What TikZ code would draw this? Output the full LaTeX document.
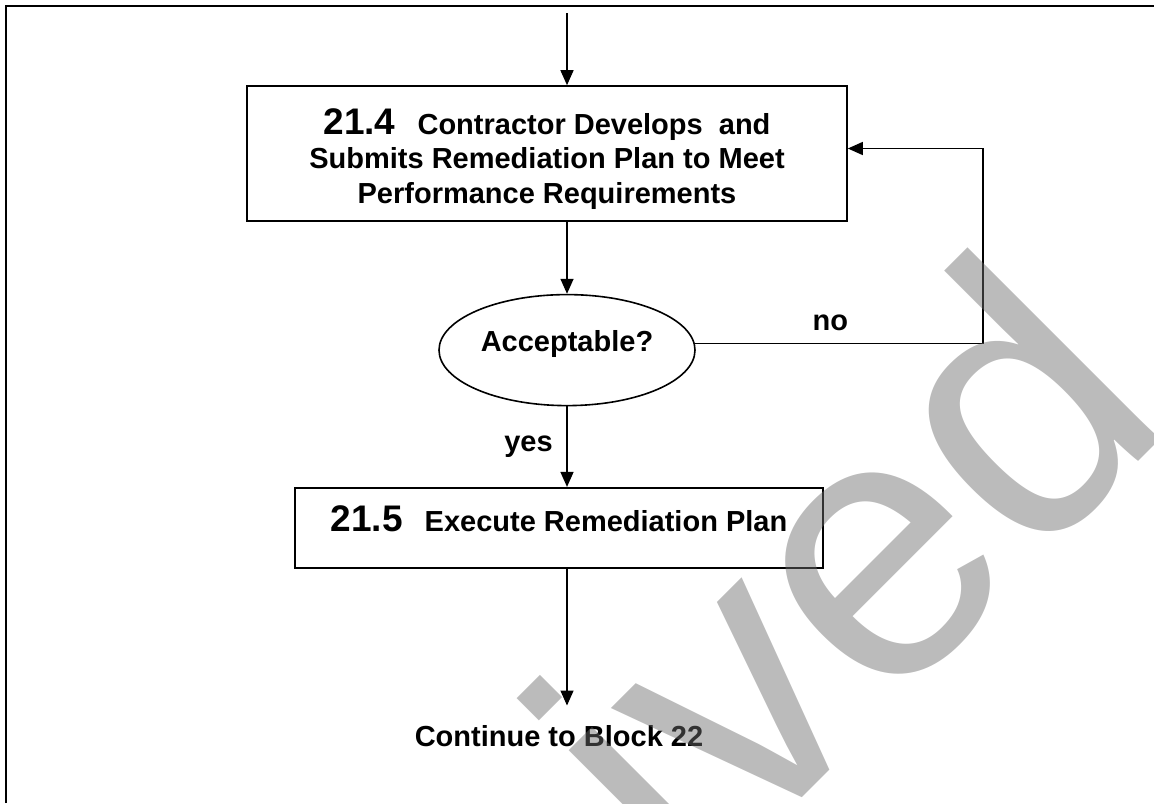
\documentclass[tikz,border=0pt]{standalone}
\usepackage{fontspec}
\setmainfont{Liberation Sans}
\usetikzlibrary{arrows.meta, positioning, shapes.geometric}
\definecolor{wmgray}{RGB}{109,109,109}
\newcommand{\blocknum}[1]{{\fontsize{18.5pt}{17.25pt}\selectfont #1}\hspace{11pt}}

\begin{document}
\begin{tikzpicture}[
				font=\bfseries\fontsize{14.5pt}{17.25pt}\selectfont,
				line width=0.7pt,
				block/.style = {draw, line width=0.8pt, align=center},
				decision/.style = {draw, ellipse, line width=0.8pt, minimum width=128pt, minimum height=55.5pt, inner sep=0pt},
				arrow/.style = {-{Triangle[length=7.5pt, width=6.5pt]}},
				stamp/.style = {font=\mdseries\fontsize{187.5pt}{190pt}\selectfont, text=wmgray, text opacity=0.467, inner sep=0pt}
				]
				
				\useasboundingbox (0,0) rectangle (577pt,-401.5pt);
				\draw[line width=1pt] (2.85pt,-401.5pt) |- (577pt,-2.85pt);
				
				\coordinate (start) at (283.5pt,-6.5pt);
				\coordinate (loop) at (491.5pt,-74.25pt);
				
				\node[block, minimum width=300pt, minimum height=67.5pt] (b214) at (273.5pt,-76.75pt) {\rule{0pt}{18.2pt}\blocknum{21.4}Contractor Develops\ \ and\\ Submits Remediation Plan to Meet\\ Performance Requirements};
				\node[decision, text depth=9pt, below=36pt of b214, xshift=10pt] (acc) {Acceptable?};
				\node[block, minimum width=264pt, minimum height=40pt, text depth=9pt, below=40.25pt of acc, xshift=-4pt] (b215) {\blocknum{21.5}Execute Remediation Plan};
				\node[below=71pt of b215, inner ysep=7pt] (cont) {Continue to Block 22};
				
				\draw[arrow] (start) -- (start |- b214.north);
				\draw[arrow] (acc.north |- b214.south) -- (acc.north);
				\draw[arrow] (acc.south) -- node[left=3.5pt] {yes} (acc.south |- b215.north);
				\draw[arrow] (acc.3.5) -- node[above=2.5pt, pos=.47] {no} (acc.3.5 -| loop) -- (loop) -- (b214.east |- loop);
				\draw[arrow] (b215.south -| start) -- ([yshift=2.5pt]cont.north -| start);
				
				% watermark
				\begin{scope}
					\clip (0,0) rectangle (577pt,-401.5pt);
					\node[stamp, rotate=45, anchor=base] at (331pt,-469pt) {Archived};
				\end{scope}
			\end{tikzpicture}
\end{document}
